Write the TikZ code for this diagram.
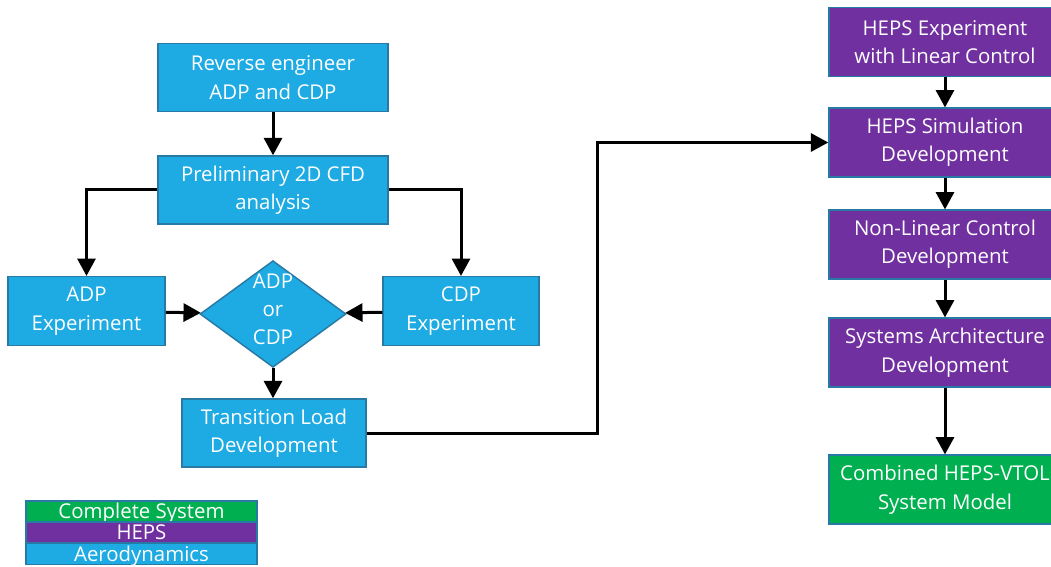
\documentclass[tikz,border=0pt]{standalone}
\usepackage{fontspec}
\setmainfont{Open Sans}
\usetikzlibrary{shapes.geometric,arrows.meta}

\definecolor{aero}{RGB}{30,170,226}
\definecolor{heps}{RGB}{112,48,160}
\definecolor{sysc}{RGB}{0,176,80}
\definecolor{edge}{RGB}{40,122,165}

\tikzset{
  box/.style={draw=edge,line width=1.1pt,text=white,align=center,inner sep=0pt,
    font=\fontsize{15.3}{21.3}\selectfont},
  aerobox/.style={box,fill=aero},
  hepsbox/.style={box,fill=heps,minimum width=174pt,minimum height=51.5pt},
  legbox/.style={box,minimum width=173pt,minimum height=16pt,text height=12.5pt,text depth=1.5pt},
  arr/.style={line width=2.25pt,-{Triangle[width=13.5pt,length=13pt]}}
}

\begin{document}
\begin{tikzpicture}[x=0.75pt,y=-0.75pt,color=black]

\useasboundingbox (0,0) rectangle (1051,567);

\node (rev) at (273,77.5)[aerobox,minimum width=172.5pt,minimum height=51pt]{Reverse engineer\\ADP and CDP};

\node (pre) at (273,190)[aerobox,minimum width=172.5pt,minimum height=51pt]{Preliminary 2D CFD\\analysis};

\node (adpx) at (86.5,311)[aerobox,minimum width=118pt,minimum height=51.5pt]{ADP\\Experiment};

\node (cdpx) at (461,311)[aerobox,minimum width=117pt,minimum height=51.5pt]{CDP\\Experiment};

\node (dec) at (273,314)[aerobox,diamond,minimum width=109.5pt,minimum height=80pt]
  {\raisebox{-2.5pt}{\smash{\begin{tabular}{@{}c@{}}ADP\\or\\CDP\end{tabular}}}};

\node (trans) at (274,433)[aerobox,minimum width=138pt,minimum height=51pt]{Transition Load\\Development};

% HEPS column
\node (h1) at (945,42)[hepsbox]{HEPS Experiment\\with Linear Control};
\node (h2) at (945,142.5)[hepsbox]{HEPS Simulation\\Development};
\node (h3) at (945,244.5)[hepsbox]{Non-Linear Control\\Development};
\node (h4) at (945,352.5)[hepsbox]{Systems Architecture\\Development};
\node (h5) at (945,489.5)[hepsbox,fill=sysc]{Combined HEPS-VTOL\\System Model};

% legend
\node (leg1) at (141.5,511.5)[legbox,fill=sysc]{Complete System};
\node (leg2) at (141.5,532.5)[legbox,fill=heps]{HEPS};
\node (leg3) at (141.5,554)[legbox,fill=aero]{Aerodynamics};

\draw[arr] (rev) -- (pre);
\draw[arr] (pre.west) -| (adpx.north);
\draw[arr] (pre.east) -| (cdpx.north);
\draw[arr] (adpx) -- (dec);
\draw[arr] (cdpx) -- (dec);
\draw[arr] (dec.south) -- (trans.north -| dec.south);
\draw[arr] (trans.east) -- ++(231,0) |- (h2.west);

\foreach \a/\b in {h1/h2,h2/h3,h3/h4,h4/h5}
{
\draw[arr] (\a) -- (\b);
}

\end{tikzpicture}
\end{document}
